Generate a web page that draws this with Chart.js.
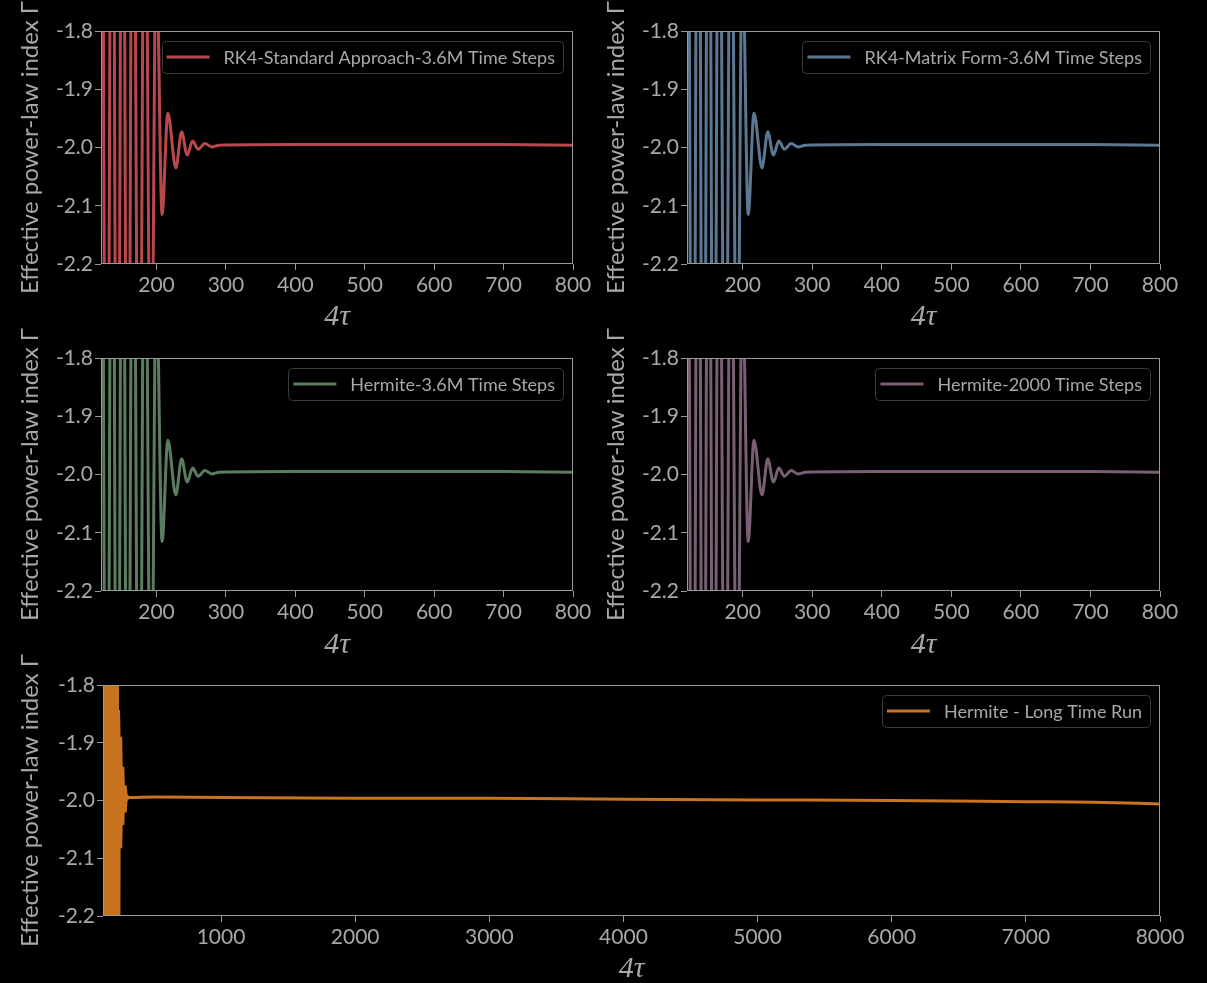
<!DOCTYPE html>
<html>
<head>
<meta charset="utf-8">
<title>Effective power-law index</title>
<script src="https://cdn.jsdelivr.net/npm/chart.js"></script>
<style>
    html, body { margin: 0; padding: 0; background: #000; width: 1207px; height: 983px; overflow: hidden; }
    canvas { position: absolute; }
</style>
</head>
<body>
<canvas id="cvRk4Std" width="600" height="335" style="left:0;top:0"></canvas>
<canvas id="cvRk4Matrix" width="621" height="335" style="left:586px;top:0"></canvas>
<canvas id="cvHermite36" width="600" height="343" style="left:0;top:320px"></canvas>
<canvas id="cvHermite2000" width="621" height="343" style="left:586px;top:320px"></canvas>
<canvas id="cvHermiteLong" width="1207" height="342" style="left:0;top:645px"></canvas>
<script>
/*Values*/
var tauShort = [121, 128.5, 136, 143.5, 151, 158.5, 166, 175, 183, 192, 199.5, 208, 216.3, 227.8, 236.1, 244.2, 252, 260, 269.7, 279.4, 290, 400, 500, 600, 700, 800];
var gammaShort = [-1.0, -3.0, -1.0, -3.0, -1.1, -2.9, -1.2, -2.8, -1.35, -2.55, -1.65, -2.115, -1.941, -2.035, -1.973, -2.013, -1.989, -2.003, -1.993, -1.999, -1.996, -1.995, -1.995, -1.995, -1.995, -1.996];

var tauBand = [120, 226, 229, 236, 240, 252, 256, 268, 272, 286, 292, 305];
var gammaBandUpper = [-1.5, -1.5, -1.846, -1.846, -1.892, -1.892, -1.944, -1.944, -1.976, -1.976, -1.990, -1.994];
var gammaBandLower = [-2.5, -2.5, -2.5, -2.5, -2.08, -2.08, -2.04, -2.04, -2.018, -2.018, -2.0, -1.996];

var tauLong = [300, 500, 1000, 2000, 3000, 4000, 5000, 6000, 7000, 7500, 8000];
var gammaLong = [-1.995, -1.994, -1.995, -1.996, -1.996, -1.998, -1.999, -2.0, -2.002, -2.003, -2.006];

var xTicksShort = [200, 300, 400, 500, 600, 700, 800];
var xTicksLong = [1000, 2000, 3000, 4000, 5000, 6000, 7000, 8000];
var yTicks = [-2.2, -2.1, -2.0, -1.9, -1.8];

var shortRuns = ['RK4-Standard Approach-3.6M Time Steps', 'RK4-Matrix Form-3.6M Time Steps', 'Hermite-3.6M Time Steps', 'Hermite-2000 Time Steps'];
var shortColors = ['#b8484c', '#5b7892', '#5b7d5f', '#7a5f74'];
var longRun = 'Hermite - Long Time Run';
var longColor = '#c8731f';

var axisColor = '#999999';
var textColor = '#a8a8a8';

/*Pair up x and y arrays*/
function toPoints(xs, ys) {
    var pts = [];
    for (var i = 0; i < xs.length; i++) {
        pts.push({ x: xs[i], y: ys[i] });
    }
    return pts;
}

/*Box round the plot area, like matplotlib spines*/
var frameBox = {
    id: 'frameBox',
    afterDatasetsDraw: function (chart) {
        var a = chart.chartArea;
        var ctx = chart.ctx;
        ctx.save();
        ctx.strokeStyle = axisColor;
        ctx.lineWidth = 1;
        ctx.strokeRect(Math.round(a.left) + 0.5, Math.round(a.top) + 0.5, Math.round(a.right - a.left) - 1, Math.round(a.bottom - a.top) - 1);
        ctx.restore();
    }
};

/*Legend drawn inside the axes, upper right*/
var insideLegend = {
    id: 'insideLegend',
    afterDraw: function (chart, args, opts) {
        var a = chart.chartArea;
        var ctx = chart.ctx;
        ctx.save();
        ctx.font = '18px Lato';
        var tw = ctx.measureText(opts.text).width;
        var w = 62 + tw + 8;
        var h = 32;
        var x = a.right - 10 - w;
        var y = a.top + 10;
        ctx.fillStyle = 'rgba(0,0,0,0.8)';
        ctx.strokeStyle = '#3a3a3a';
        ctx.lineWidth = 1;
        ctx.beginPath();
        ctx.roundRect(Math.round(x) + 0.5, Math.round(y) + 0.5, Math.round(w), h, 4);
        ctx.fill();
        ctx.stroke();
        ctx.strokeStyle = opts.color;
        ctx.lineWidth = 3;
        ctx.beginPath();
        ctx.moveTo(x + 5, y + h / 2);
        ctx.lineTo(x + 48, y + h / 2);
        ctx.stroke();
        ctx.fillStyle = textColor;
        ctx.textBaseline = 'middle';
        ctx.fillText(opts.text, x + 62, y + h / 2 + 1);
        ctx.restore();
    }
};

/*Build one panel*/
function buildPanel(id, datasets, legend, xMin, xMax, xTicks, area) {
    var cv = document.getElementById(id);
    return new Chart(cv, {
        type: 'line',
        data: { datasets: datasets },
        options: {
            responsive: false,
            animation: false,
            devicePixelRatio: 1,
            layout: { padding: { top: area.top, right: cv.width - area.right, left: 0, bottom: 0 } },
            elements: { point: { radius: 0 } },
            plugins: {
                legend: { display: false },
                tooltip: { enabled: false },
                insideLegend: legend
            },
            scales: {
                x: {
                    type: 'linear',
                    min: xMin,
                    max: xMax,
                    afterBuildTicks: function (s) {
                        s.ticks = xTicks.map(function (v) { return { value: v }; });
                    },
                    afterFit: function (s) { s.height = cv.height - area.bottom; },
                    border: { display: false },
                    grid: { drawOnChartArea: false, drawTicks: true, tickLength: 6, color: axisColor },
                    ticks: {
                        color: textColor,
                        font: { family: 'Lato', size: 21 },
                        padding: 3,
                        maxRotation: 0,
                        callback: function (v) { return String(v); }
                    },
                    title: { display: true, text: '4\u03C4', color: textColor, font: { family: 'Liberation Serif', size: 30, style: 'italic' }, padding: 0 }
                },
                y: {
                    type: 'linear',
                    min: -2.2,
                    max: -1.8,
                    afterBuildTicks: function (s) {
                        s.ticks = yTicks.map(function (v) { return { value: v }; });
                    },
                    afterFit: function (s) { s.width = area.left; },
                    border: { display: false },
                    grid: { drawOnChartArea: false, drawTicks: true, tickLength: 6, color: axisColor },
                    ticks: {
                        color: textColor,
                        font: { family: 'Lato', size: 21 },
                        padding: 2,
                        callback: function (v) { return Number(v).toFixed(1); }
                    },
                    title: { display: true, text: 'Effective power-law index \u0393', color: textColor, font: { family: 'Lato', size: 24 }, padding: { top: 16, bottom: 0 } }
                }
            }
        },
        plugins: [frameBox, insideLegend]
    });
}

function shortDataset(i) {
    return [{
        data: toPoints(tauShort, gammaShort),
        borderColor: shortColors[i],
        borderWidth: 3,
        cubicInterpolationMode: 'monotone',
        fill: false,
        clip: 0
    }];
}

var panels = [
    { id: 'cvRk4Std', area: { left: 101, right: 573, top: 31, bottom: 264 } },
    { id: 'cvRk4Matrix', area: { left: 101, right: 574, top: 31, bottom: 264 } },
    { id: 'cvHermite36', area: { left: 101, right: 573, top: 38, bottom: 271 } },
    { id: 'cvHermite2000', area: { left: 101, right: 574, top: 38, bottom: 271 } }
];

for (var p = 0; p < panels.length; p++) {
    buildPanel(panels[p].id, shortDataset(p), { text: shortRuns[p], color: shortColors[p] }, 120, 800, xTicksShort, panels[p].area);
}

/*Long run: dense early ringing shown as a band, then the line*/
buildPanel('cvHermiteLong', [
    {
        data: toPoints(tauBand, gammaBandUpper),
        borderColor: longColor,
        backgroundColor: longColor,
        borderWidth: 3,
        fill: '+1',
        clip: 0
    },
    {
        data: toPoints(tauBand, gammaBandLower),
        borderColor: longColor,
        borderWidth: 3,
        fill: false,
        clip: 0
    },
    {
        data: toPoints(tauLong, gammaLong),
        borderColor: longColor,
        borderWidth: 3,
        cubicInterpolationMode: 'monotone',
        fill: false,
        clip: 0
    }
], { text: longRun, color: longColor }, 120, 8000, xTicksLong, { left: 103, right: 1160, top: 40, bottom: 271 });
</script>
</body>
</html>
